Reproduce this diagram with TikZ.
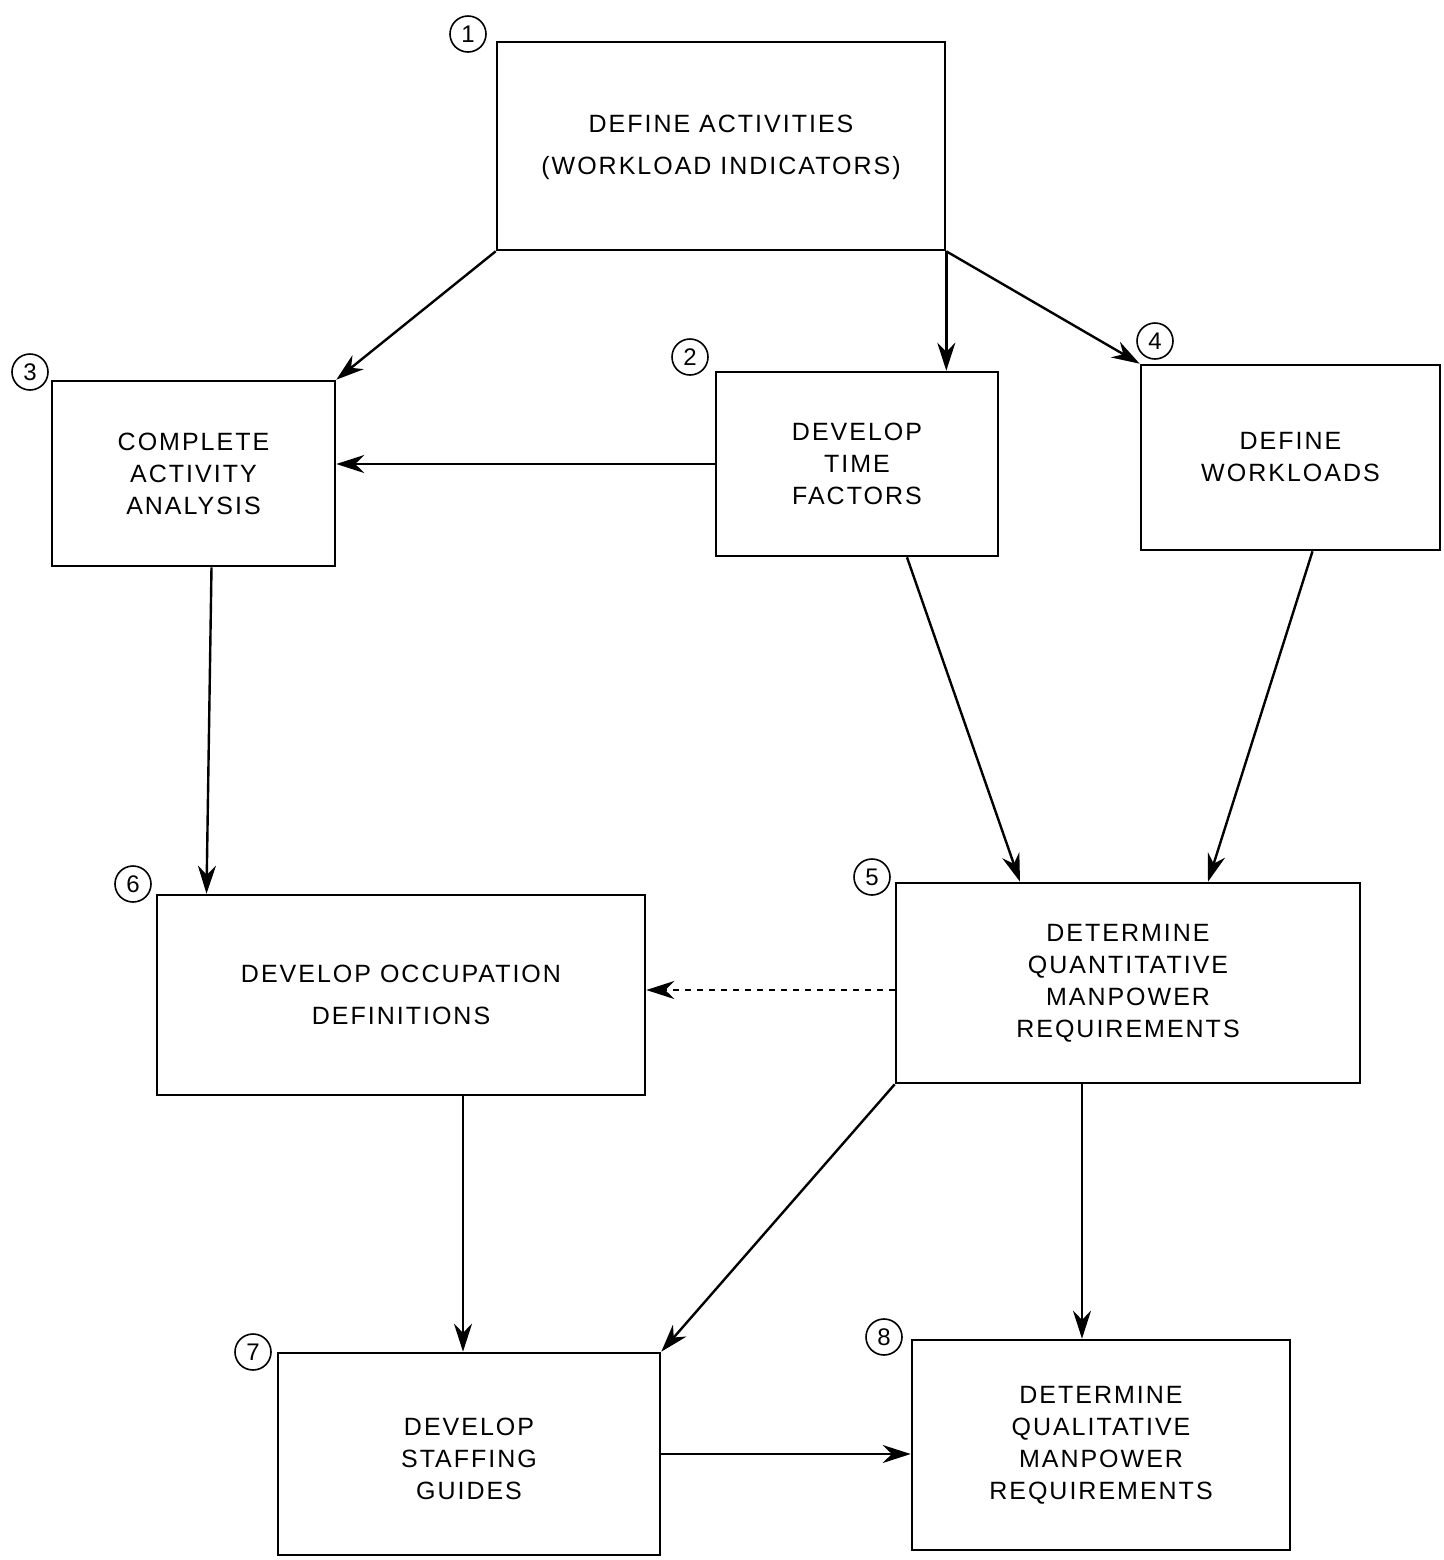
\documentclass[tikz,border=0pt]{standalone}
\usepackage{fontspec}
\setmainfont[LetterSpace=8]{Liberation Sans}
\usetikzlibrary{arrows.meta}

\tikzset{
  box/.style = {draw, line width = 1.3pt, align = center, inner sep = 0pt,
                font = \fontsize{12.5}{16}\selectfont},
  num/.style = {draw, circle, line width = 0.8pt, minimum size = 18pt, inner sep = 0pt,
                font = \fontsize{12}{14}\selectfont},
  arr/.style = {line width = 1.2pt, -{Stealth[length = 14pt, width = 9pt]}}
}

\begin{document}
\begin{tikzpicture}[x = 0.5pt, y = -0.5pt]
\useasboundingbox (0, 0) rectangle (1444, 1560);

% boxes
\node[box, minimum width = 224pt, minimum height = 104pt] (b1) at (721, 146)
  {\\[-6pt]DEFINE ACTIVITIES\\[5pt](WORKLOAD INDICATORS)};
\node[box, minimum width = 141pt, minimum height = 92pt] (b2) at (857, 464)
  {DEVELOP\\TIME\\FACTORS};
\node[box, minimum width = 141.5pt, minimum height = 92.5pt] (b3) at (193.5, 473.5)
  {COMPLETE\\ACTIVITY\\ANALYSIS};
\node[box, minimum width = 149.5pt, minimum height = 92.5pt] (b4) at (1290.5, 457.5)
  {DEFINE\\WORKLOADS};
\node[box, minimum width = 232pt, minimum height = 100pt] (b5) at (1128, 983)
  {DETERMINE\\QUANTITATIVE\\MANPOWER\\REQUIREMENTS};
\node[box, minimum width = 244pt, minimum height = 100pt] (b6) at (401, 995)
  {DEVELOP OCCUPATION\\[5pt]DEFINITIONS};
\node[box, minimum width = 191pt, minimum height = 101pt] (b7) at (469, 1454)
  {\\[-2pt]DEVELOP\\STAFFING\\GUIDES};
\node[box, minimum width = 189pt, minimum height = 105pt] (b8) at (1101, 1445)
  {DETERMINE\\QUALITATIVE\\MANPOWER\\REQUIREMENTS};

% step numbers
\node[num] (n1) at (468, 34) {1};
\node[num] (n2) at (690, 357) {2};
\node[num] (n3) at (30, 372) {3};
\node[num] (n4) at (1155, 341) {4};
\node[num] (n5) at (872, 877) {5};
\node[num] (n6) at (133, 884) {6};
\node[num] (n7) at (253, 1352) {7};
\node[num] (n8) at (884, 1337) {8};

% connectors
\draw[arr] (b1.south west) -- (b3.north east);
\draw[arr] (b1.south east) -- (b1.south east |- b2.north);
\draw[arr] (b1.south east) -- (b4.north west);
\draw[arr] (b2.west) -- (b2.west -| b3.east);
\draw[arr] ([xshift = 9pt]b3.south) -- ([xshift = 6.5pt]b3.south |- b6.north);
\draw[arr] ([xshift = 25pt]b2.south) -- ([xshift = -54pt]b5.north);
\draw[arr] ([xshift = 11pt]b4.south) -- ([xshift = 40pt]b5.north);
\draw[arr, dashed] ([yshift = -3.5pt]b5.west) -- ([yshift = -3.5pt]b5.west -| b6.east);
\draw[arr] ([xshift = 31pt]b6.south) -- ([xshift = 31pt]b6.south |- b7.north);
\draw[arr] (b5.south west) -- (b7.north east);
\draw[arr] ([xshift = -23pt]b5.south) -- ([xshift = -23pt]b5.south |- b8.north);
\draw[arr] (b7.east) -- (b7.east -| b8.west);
\end{tikzpicture}
\end{document}
